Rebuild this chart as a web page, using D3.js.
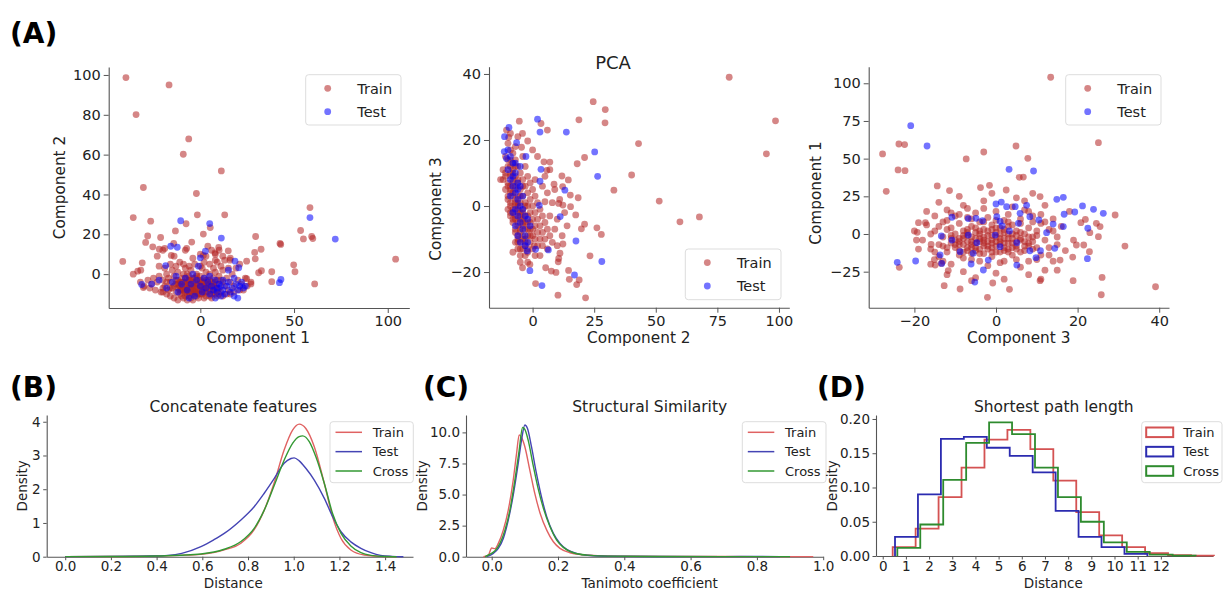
<!DOCTYPE html>
<html><head><meta charset="utf-8">
<script src="https://cdn.jsdelivr.net/npm/d3@7"></script>
<style>body{margin:0;background:#fff} svg text{font-family:"DejaVu Sans",sans-serif}</style>
</head><body><svg id="c" width="1225" height="590"></svg>
<script>
// ---------------- DATA ----------------
const seriesNames = ["Train", "Test", "Cross"];

// Panel A1: Component 1 (x) vs Component 2 (y)
const a1Train = [
[-39.7,98.7],[-16.7,95],[-34.3,80.1],[-6.2,67.9],[-9.1,60.2],[11.2,51.8],[-30.4,43.5],[-2.1,40.5],[58.5,33.4],[-35.8,28.4],[-26.5,26.6],[-1.6,29.8],[13,29.8],[-7.6,25.3],[5.3,23.4],[-13.3,21.7],[53.5,21.9],[1.6,20.1],[-28.1,19.2],[-21.2,18.4],[29.5,18.9],[59.4,18.9],[55,17.7],[60,17.9],[-29.2,15.9],[-4.6,16.1],[-14.2,15.4],[42.5,15.4],[42.9,14.9],[-25.4,13.7],[-21.9,12.5],[-19,12.9],[-7.3,12.9],[9.8,13.4],[14.9,11.7],[32.4,12.5],[29,10.9],[-15.5,9.4],[1.6,9.4],[7.8,10.7],[-41.4,6.4],[-31,5.7],[15.8,7],[24.7,6.5],[29.3,7.7],[104.2,7.5],[49.8,4.7],[-35.8,0],[-33.4,1.5],[-31.8,2],[32.6,1.7],[31.1,0.7],[38.1,1.2],[50.5,1.2],[38.1,-3.8],[61,-4.9],[27,-4.9],[-30.4,-6.7],[24.7,-2.3],
[-28,-3],[-25,-2],[-23,-4],[-22,-1],[-20,-3],[-19,-6],[-18,0],[-17,-2],[-16,-4],[-15,-7],[-15,2],[-14,-1],[-13,-5],[-13,-9],[-12,-3],[-12,1],[-11,-6],[-11,-10],[-10,-2],[-10,-4],[-9,-8],[-9,0],[-8,-5],[-8,-11],[-8,3],[-7,-3],[-7,-7],[-6,-1],[-6,-9],[-6,-5],[-5,-12],[-5,-3],[-5,2],[-4,-6],[-4,-8],[-3,-2],[-3,-10],[-3,-4],[-2,0],[-2,-7],[-2,-11],[-1,-5],[-1,-3],[0,-8],[0,-1],[0,-6],[1,-4],[1,-10],[1,3],[2,-2],[2,-7],[3,-5],[3,-9],[3,1],[4,-3],[4,-6],[5,-11],[5,0],[6,-4],[6,-8],[7,-2],[7,-6],[8,-10],[8,1],[9,-5],[9,-3],[10,-7],[10,-1],[11,-9],[12,-4],[12,2],[13,-6],[14,-2],[15,-8],[16,-4],[17,0],[18,-6],[20,-3],[22,-5],[24,-2],
[-32,-4],[-30,-6],[-27,-7],[-26,-5],[-24,-8],[-21,-9],[-20,-7],[-18,-10],[-16,-11],[-14,-12],[-17,-8],[-12,-13],[-9,-12],[-7,-13],[-4,-13],[-1,-12],[2,-12],[6,-12],[9,-11],[12,-11],[14,-10],[16,-10],[18,-9],[21,-8],[23,-8],[25,-6],[27,-4],
[-22,4],[-19,3],[-16,5],[-13,4],[-11,6],[-9,5],[-6,4],[-3,5],[0,4],[2,6],[5,5],[7,3],[9,6],[11,4],[13,7],[15,3],[19,3],[21,5],[-23,9],[-14,9],[-4,8],[3,9],[8,10],[12,9],[16,8],[-20,12],[-8,12],[6,12],[10,12],[4,14],[8,7],[0,10],
[-9,-6],[-8,-8],[-7,-4],[-6,-7],[-5,-9],[-4,-4],[-3,-7],[-2,-5],[-1,-8],[0,-4],[1,-6],[2,-9],[3,-7],[4,-9],[5,-5],[-10,-8],[-11,-4],[-12,-7],[6,-6],[7,-9],[8,-4],[-6,-3],[-3,-9],[0,-10],[3,-3],[-8,-2],[-4,-10],[2,-4],[-7,-10],[5,-8],
[-14,-6],[-13,-3],[-11,-8],[-10,-11],[-9,-4],[-8,-9],[-7,-6],[-6,-11],[-5,-7],[-4,-2],[-3,-6],[-2,-9],[-1,-10],[0,-3],[1,-8],[2,-6],[3,-11],[4,-7],[5,-3],[6,-10],[7,-5],[8,-7],[9,-8],[10,-10],[11,-3],[-16,-7],[-18,-4],[-20,-9],[-7,0],[-2,-1],[-12,-5],[-10,-7]
];
const a1Test = [
[-10.5,26.8],[5,25.4],[11.2,18.1],[58.5,28.4],[72,17.6],[-15.8,14],[-12.3,13.5],[2.7,11.5],[0,8.2],[18.5,6.5],[20.5,3.2],[43,-2.7],[42.2,-4.3],[-31.3,-5.2],[-18.5,4.3],
[-26,-5],[-22,-3],[-18,-7],[-15,-4],[-12,-9],[-10,-5],[-8,-2],[-7,-8],[-5,-5],[-3,-11],[-2,-3],[0,-6],[1,-9],[2,-2],[3,-7],[4,-4],[5,-10],[6,-6],[7,-8],[8,-3],[9,-7],[9,-9],[10,-5],[11,-6],[12,-8],[12,-3],[13,-10],[14,-6],[15,-4],[16,-9],[17,-7],[18,-11],[18,-2],[19,-5],[20,-8],[21,-6],[22,-4],[23,-7],[24,-6],[-4,0],[5,-1],[-13,-1],[15,2],[-1,4],[8,-12],[-6,-12],[11,-11],[20,-12]
];

// Panel A2: Component 2 (x) vs Component 3 (y)
const a2Train = [
[79.8,39],[98.6,25.8],[94.9,15.8],[24.6,31.6],[29.5,29.2],[29.4,25.2],[18.8,26.1],[43,18.9],[40.2,9.4],[33,4.8],[51.4,1.5],[59.8,-4.8],[67.7,-3.3],[26.1,-6.6],[27.9,-8.6],[21.1,-5.5],[19.8,-6.9],[21.1,14.7],[18.1,12.8],[18.5,2.5],[17.5,-2.7],[15.4,-0.2],[14.5,7.9],[11.9,9.1],[15.3,3.3],[12.2,5.9],[12.3,0.3],[10.6,0.8],[23.3,-15.1],[14.6,-19.5],[14.9,-22.2],[18.9,-22.4],[17.9,-23.8],[21.5,-27.8],[10.3,-27],[12.3,-11.5],[11.1,-14.3],[10.6,-15.9],[10.4,-16.9],[7.6,-19.7],[9.5,-20.1],[5.3,-18.7],[1.2,-23.5],[-4.1,-18.7],[-1.1,-17.7],[0.7,-12.1],[6,23],[3.4,25],[-5.4,25.7],[-4.1,22],[-2,19.7],[-4.5,17.8],[4.6,13.4],[7,13.3],[5.8,10.8],[-10.6,23],[-9.7,20.8],[8.7,6.6],[5,1.3],
[-10,19],[-9,17],[-8,16],[-7,18],[-11,15],[-9,14],[-7,14],[-6,12],[-10,12],[-8,11],[-11,10],[-9,9],[-7,9],[-5,10],[-12,8],[-10,7],[-8,7],[-6,7],[-4,8],[-11,5],[-9,5],[-7,5],[-5,5],[-3,6],[-1,7],[-10,3],[-8,3],[-6,3],[-4,3],[-2,4],[0,5],[-9,1],[-7,1],[-5,1],[-3,1],[-1,2],[1,3],[-10,-1],[-8,-1],[-6,-1],[-4,-1],[-2,0],[0,0],[2,1],[-9,-3],[-7,-3],[-5,-3],[-3,-3],[-1,-2],[1,-2],[3,-1],[-8,-5],[-6,-5],[-4,-5],[-2,-5],[0,-4],[2,-4],[4,-3],[-7,-7],[-5,-7],[-3,-7],[-1,-7],[1,-6],[3,-6],[5,-5],[-6,-9],[-4,-9],[-2,-9],[0,-9],[2,-8],[4,-8],[6,-7],[-7,-11],[-5,-11],[-3,-11],[-1,-11],[1,-10],[3,-10],[5,-10],[7,-9],[-6,-13],[-4,-13],[-2,-13],[0,-13],[2,-12],[4,-12],[-5,-15],[-3,-15],[3,-15],[6,-13],[8,-11],[9,-7],[7,-3],[8,1],[10,-4],[6,4],[9,5],[-12,11],[-13,8],[-9,22],[-6,21],[-4,15],[-3,12],[-2,9],[1,8],[4,6],[-8,-14],[-5,-17],[-2,-17],[1,-15],[10,-12],[12,-9],[14,-6],[13,-2],[11,2],[5,9],[7,11],[2,15],[0,17],
[-8,13],[-9,10],[-7,12],[-9,6],[-6,8],[-8,4],[-7,2],[-9,0],[-6,0],[-8,-2],[-5,-2],[-7,-4],[-4,-4],[-6,-6],[-3,-5],[-5,-8],[-2,-7],[-4,-10],[-1,-9],[-6,-10],[-3,-12],
[-10,14],[-9,12],[-11,9],[-10,6],[-8,8],[-9,4],[-10,2],[-7,0],[-9,-2],[-6,-2],[-8,-4],[-5,-4],[-7,-8],[-4,-6],[-6,-11],[-3,-10],[-5,-13],[-2,-14],[-8,10],[-7,6],[-6,1],[-4,-2],[-2,-3],[-1,-5],[0,-7],[-3,0],[-5,3],[-4,6]
];
const a2Test = [
[2,26.3],[3,22.4],[13.7,22.4],[-9.6,23.8],[-11.4,21],[25.2,16.4],[26.4,9],[-2.7,15],[3.4,11.1],[3,7.5],[13.1,4.8],[2.7,0.2],[11.2,-3.2],[17.6,-10.6],[28.1,-16.8],[17,-20.9],[3.8,-24.1],[-1.1,-19.6],[-2.2,-13.6],[1.2,-13.1],[6.4,-13.3],[-11.5,16.5],[-10.6,14.4],[-6.5,19.2],
[-10,17],[-9,15],[-8,13],[-10,11],[-7,10],[-9,8],[-6,7],[-8,6],[-5,6],[-7,4],[-9,3],[-6,2],[-5,0],[-7,-1],[-4,-1],[-6,-3],[-3,-3],[-5,-5],[-2,-4],[-7,-6],[-4,-7],[-1,-6],[-6,-9],[-3,-9],[-5,-11],[-2,-11],[-8,-2],[-6,5],[-4,3],[-8,9],[-5,12],[-3,-12],[-7,13]
];

// Panel A3: Component 3 (x) vs Component 1 (y)
const a3Train = [
[13.4,104],[-27.8,53.1],[-23.8,59.7],[-22.4,59.3],[-24,42.5],[-22.3,42],[-26.9,28.3],[25.1,60.6],[-7.3,49.8],[-3,54.4],[4.9,58.4],[7.8,50.2],[5.7,37.6],[6.7,37.8],[-14.4,31.9],[-11.4,28.8],[-3.8,30.8],[-1.6,32.3],[2.5,29.2],[9,27],[10.8,24.8],[-23.7,-22.1],[-12.7,-34.3],[-8.8,-36.5],[-2.1,-42],[3.3,-36.7],[-0.8,-32.5],[10.8,-31],[18.9,-31],[26,-28.8],[25.8,-40.3],[39.1,-35],[31.6,-8],[29.2,12.6],[25.5,4.9],[25.1,-1.8],[23,0.9],[22.9,-11.7],[21.5,-7.3],[19.7,-7.3],[20.8,7.5],[21.9,9.7],[24.6,7.1],[18.8,-15.3],[15.7,-17.3],[-19,7.5],[-19.3,1.1],[-19.5,-4],[-17.3,7.5],[-15.9,-6.9],[-15.1,-17],[-14.9,-20.6],[-13.4,-19.5],[-11.7,-24.3],
[-18,-4],[-17,6],[-16,-10],[-15,12],[-15,2],[-14,-7],[-14,-15],[-13,8],[-13,-2],[-12,16],[-12,-12],[-11,4],[-11,-6],[-11,-20],[-10,12],[-10,0],[-10,-9],[-9,-3],[-9,-14],[-9,7],[-8,19],[-8,2],[-8,-7],[-8,-25],[-7,-11],[-7,11],[-7,-1],[-6,5],[-6,-5],[-6,-17],[-5,-9],[-5,1],[-5,14],[-5,-29],[-4,-3],[-4,8],[-4,-13],[-3,22],[-3,-6],[-3,3],[-2,-10],[-2,11],[-2,-1],[-2,-21],[-1,-4],[-1,6],[-1,-15],[0,-8],[0,1],[0,15],[0,-26],[1,-12],[1,4],[1,-3],[2,9],[2,-6],[2,-18],[3,0],[3,-10],[3,13],[4,-3],[4,6],[4,-14],[5,-8],[5,2],[5,24],[6,-4],[6,10],[6,-22],[7,-11],[7,0],[7,16],[8,-6],[8,4],[8,-18],[9,-2],[9,12],[10,-9],[10,2],[11,-14],[11,7],[12,-4],[12,19],[13,-9],[13,3],[14,-18],[14,10],[15,-2],[16,5],[17,-11],[18,15],[19,-4],[-16,-20],[-12,-27],[-6,-31],[2,-30],[8,-27],[12,-24],[-19,-10],[-20,2],[-17,15],[-14,21],[-9,25],[-1,27],[7,22],[11,-30],[15,-24],
[-10,-4],[-9,-7],[-8,-1],[-7,-5],[-7,3],[-6,-9],[-6,-2],[-5,-6],[-5,4],[-4,-10],[-4,0],[-3,-8],[-3,-2],[-2,-5],[-2,2],[-1,-9],[-1,-1],[0,-5],[0,4],[1,-7],[1,0],[2,-3],[2,3],[3,-6],[3,5],[4,-9],[4,0],[5,-5],[6,1],[7,-8],[8,-2],[9,-5],[-11,-1],[-12,3],[-13,-8],[-9,-11],[-6,-13],[-3,-13],[0,-12],[3,-12],[6,-12],[9,-10],[10,-1],[-12,9],[-9,13],[-6,10],[-3,8],[0,9],[3,8],[6,7],[9,8],[-8,-16],[-4,-18],[1,-19],[5,-17],[-13,-18],[10,-17],[13,-14],[15,-7],[14,2],[12,8],[-15,-12],[-16,0],[-14,5],[-11,14],[-7,17],[-3,17],[4,18],[8,15],[11,13],
[-9,-5],[-8,-3],[-7,-9],[-6,-7],[-5,-3],[-4,-5],[-3,-4],[-2,-8],[-1,-6],[0,-2],[1,-5],[2,-9],[3,-3],[4,-6],[5,-10],[6,-3],[7,-5],[-10,-7],[-11,-3],[-8,-12],[-5,-11],[-1,-12],[2,-11],[-7,1],[-4,2],[-1,3],[2,1],[5,-1],[8,-8],[-12,-9]
];
const a3Test = [
[-20.9,71.9],[-16.9,58.4],[3.2,42.9],[9.2,41.8],[14.9,23],[16.5,24.3],[21.2,18.6],[23.9,16.4],[26.3,13.7],[19.3,14.6],[16.7,13.1],[22.5,3.8],[22.4,-16.4],[16.5,4.9],[12.4,0.9],[-24.2,-18.8],[-19.7,-17.9],[-13.7,-13.9],[-13.3,-19.5],[-5.2,-31.9],[-3.1,-23.9],[-6.1,-19.9],[5.1,-20.6],[9.8,-15.7],[10.9,-11.1],[14.4,-9.5],[14,6.6],[10.5,9.3],[7.5,19],[4.7,18.1],[2.6,18.1],[1.3,21.2],[0,19.9],[0.2,11.5],[1,8.4],[3.3,2],[5.5,7.1],[-0.2,-0.7],[1,-8.4],[-13.4,-1.3],[-10.8,11.1],[-10.8,-4],[-6.8,10.2],[-4.9,10.4],[-6.8,-0.7],[-3.3,8.8],[1.5,5.3],[5.1,-5.8],[5.9,13.7],[8.3,-11.1],[-4.7,-5.8],[8.3,11.5],[-5.6,-12.8],[-1.9,-17.3],[-8.8,-11.7]
];

// Panel B: Concatenate features, KDE [distance, density]
const bTrain = [[0,0.003],[0.2,0.005],[0.375,0.015],[0.5,0.04],[0.594,0.07],[0.696,0.2],[0.769,0.4],[0.827,0.8],[0.871,1.38],[0.915,2.2],[0.958,3.16],[0.995,3.75],[1.024,3.93],[1.053,3.8],[1.09,3.26],[1.134,2.17],[1.17,1.18],[1.207,0.54],[1.25,0.2],[1.309,0.05],[1.396,0.005],[1.45,0]];
const bTest = [[0,0.003],[0.2,0.01],[0.3,0.015],[0.375,0.02],[0.45,0.04],[0.51,0.1],[0.594,0.3],[0.65,0.5],[0.696,0.69],[0.769,1.09],[0.827,1.48],[0.871,1.88],[0.915,2.32],[0.958,2.77],[0.988,2.91],[1.002,2.93],[1.024,2.84],[1.053,2.62],[1.09,2.27],[1.134,1.73],[1.17,1.19],[1.207,0.74],[1.25,0.44],[1.294,0.25],[1.338,0.12],[1.38,0.04],[1.43,0.01],[1.48,0]];
const bCross = [[0,0.003],[0.2,0.005],[0.4,0.02],[0.5,0.045],[0.594,0.08],[0.696,0.22],[0.769,0.45],[0.827,0.84],[0.871,1.38],[0.915,2.12],[0.958,2.86],[0.995,3.36],[1.024,3.56],[1.039,3.58],[1.068,3.41],[1.097,2.96],[1.134,2.17],[1.17,1.28],[1.207,0.69],[1.25,0.32],[1.294,0.12],[1.338,0.04],[1.4,0.005],[1.45,0]];

// Panel C: Structural similarity, KDE [tanimoto, density]
const cTrain = [[-0.025,0],[-0.01,0.13],[0,0.7],[0.01,0.65],[0.02,1.07],[0.035,2.14],[0.05,3.75],[0.065,6.17],[0.075,8.3],[0.083,9.8],[0.09,9.6],[0.1,8.85],[0.115,6.97],[0.13,5.1],[0.146,3.5],[0.166,2.14],[0.186,1.2],[0.206,0.67],[0.236,0.32],[0.276,0.16],[0.326,0.08],[0.4,0.04],[0.6,0.02],[0.8,0.01],[0.97,0.005]];
const cTest = [[-0.015,0],[0.005,0.27],[0.02,0.67],[0.035,1.47],[0.05,2.95],[0.065,4.96],[0.08,7.5],[0.09,9.38],[0.1,10.6],[0.108,10.32],[0.12,8.85],[0.135,6.7],[0.15,4.83],[0.166,3.22],[0.186,1.88],[0.206,1.07],[0.226,0.59],[0.256,0.27],[0.296,0.1],[0.35,0.04],[0.5,0.02],[0.7,0.01],[0.8,0.02],[0.87,0.005]];
const cCross = [[-0.02,0],[-0.005,0.2],[0.01,0.48],[0.025,1.07],[0.04,2.14],[0.055,3.75],[0.07,6.17],[0.083,8.58],[0.093,10.4],[0.1,10.24],[0.11,9.38],[0.125,7.37],[0.14,5.5],[0.156,3.89],[0.176,2.41],[0.196,1.34],[0.216,0.75],[0.246,0.32],[0.286,0.13],[0.35,0.05],[0.5,0.02],[0.7,0.01],[0.9,0.005]];

// Panel D: Shortest path length histograms (first bin edge, bin width, densities)
const dTrainStart = 0.43, dTrainWidth = 0.99;
const dTrain = [0.013,0.040,0.086,0.129,0.170,0.184,0.156,0.110,0.064,0.030,0.013,0.004,0.0012,0.0005];
const dTestStart = 0.53, dTestWidth = 0.99;
const dTest = [0.028,0.090,0.171,0.174,0.158,0.146,0.122,0.066,0.028,0.013,0.003];
const dCrossStart = 0.63, dCrossWidth = 0.99;
const dCross = [0.012,0.046,0.111,0.165,0.195,0.178,0.129,0.086,0.050,0.020,0.006,0.002,0.0006];

// tick values
const a1XTicks = [0,50,100], a1YTicks = [0,20,40,60,80,100];
const a2XTicks = [0,25,50,75,100], a2YTicks = [-20,0,20,40];
const a3XTicks = [-20,0,20,40], a3YTicks = [-25,0,25,50,75,100];
const bXTicks = [0,0.2,0.4,0.6,0.8,1.0,1.2,1.4], bYTicks = [0,1,2,3,4];
const cXTicks = [0,0.2,0.4,0.6,0.8,1.0], cYTicks = [0,2.5,5,7.5,10];
const dXTicks = [0,1,2,3,4,5,6,7,8,9,10,11,12], dYTicks = [0,0.05,0.10,0.15,0.20];

// ---------------- DRAWING ----------------
const svg = d3.select('#c');
const FONT = '"DejaVu Sans", sans-serif';
const SPINE = '#555';

function styleAxis(ax, fs){
  ax.attr('font-family', FONT).attr('font-size', fs);
  ax.select('.domain').attr('stroke', SPINE).attr('stroke-width', 1.1);
  ax.selectAll('.tick line').attr('stroke', SPINE).attr('stroke-width', 1);
  ax.selectAll('.tick text').attr('fill', '#222');
}

function addText(x, y, txt, fs, opts={}){
  const t = svg.append('text').attr('x', x).attr('y', y).text(txt)
    .attr('font-size', fs).attr('fill', '#222').attr('font-family', FONT)
    .attr('text-anchor', opts.anchor || 'middle');
  if (opts.bold) t.attr('font-weight', 'bold').attr('fill', '#000');
  if (opts.rotate) t.attr('transform', `rotate(-90,${x},${y})`);
  return t;
}

function scatterPanel(c){
  const g = svg.append('g');
  const x = d3.scaleLinear().domain(c.xd).range(c.xr);
  const y = d3.scaleLinear().domain(c.yd).range(c.yr);
  g.append('g').selectAll('circle').data(c.train).join('circle')
    .attr('cx', d => x(d[0])).attr('cy', d => y(d[1])).attr('r', 3.4)
    .attr('fill', '#b22222').attr('fill-opacity', 0.55);
  g.append('g').selectAll('circle').data(c.test).join('circle')
    .attr('cx', d => x(d[0])).attr('cy', d => y(d[1])).attr('r', 3.4)
    .attr('fill', '#0000ff').attr('fill-opacity', 0.55);
  const fmt = d3.format('');
  const ax = g.append('g').attr('transform', `translate(0,${c.yr[0]})`)
    .call(d3.axisBottom(x).tickValues(c.xt).tickSize(5).tickPadding(3).tickSizeOuter(0).tickFormat(fmt));
  styleAxis(ax, 14.5);
  const ay = g.append('g').attr('transform', `translate(${c.xr[0]},0)`)
    .call(d3.axisLeft(y).tickValues(c.yt).tickSize(5).tickPadding(3).tickSizeOuter(0).tickFormat(fmt));
  styleAxis(ay, 14.5);
  addText(c.xl[0], c.xl[1], c.xlabel, 15.3);
  addText(c.yl[0], c.yl[1], c.ylabel, 15.3, {rotate:true});
  // legend
  const L = c.leg;
  g.append('rect').attr('x', L[0]).attr('y', L[1]).attr('width', L[2]).attr('height', L[3])
    .attr('rx', 3).attr('fill', '#fff').attr('fill-opacity', 0.85).attr('stroke', '#ddd');
  const items = [['Train', '#b22222'], ['Test', '#0000ff']];
  items.forEach((it, i) => {
    const cy = L[1] + 13.6 + i * 23.4;
    g.append('circle').attr('cx', L[0] + 22).attr('cy', cy).attr('r', 3.4)
      .attr('fill', it[1]).attr('fill-opacity', 0.55);
    g.append('text').attr('x', L[0] + 51.6).attr('y', cy + 5.3).text(it[0])
      .attr('font-size', 14.5).attr('fill', '#222').attr('font-family', FONT);
  });
}

function bottomAxes(c){
  const x = d3.scaleLinear().domain(c.xd).range(c.xr);
  const y = d3.scaleLinear().domain(c.yd).range(c.yr);
  const g = svg.append('g');
  const ax = g.append('g').attr('transform', `translate(0,${c.yr[0]})`)
    .call(d3.axisBottom(x).tickValues(c.xt).tickSize(3.5).tickPadding(1.5).tickSizeOuter(0).tickFormat(c.xf));
  styleAxis(ax, 13.5);
  const ay = g.append('g').attr('transform', `translate(${c.xr[0]},0)`)
    .call(d3.axisLeft(y).tickValues(c.yt).tickSize(3.5).tickPadding(2.5).tickSizeOuter(0).tickFormat(c.yf));
  styleAxis(ay, 13.5);
  addText(c.title[0], c.title[1], c.title[2], 15.5);
  addText(c.xl[0], c.xl[1], c.xlabel, 13.5);
  addText(c.yl[0], c.yl[1], 'Density', 13.5, {rotate:true});
  return {x, y, g};
}

function legendBox(g, L, colors, kind){
  g.append('rect').attr('x', L[0]).attr('y', L[1]).attr('width', L[2]).attr('height', L[3])
    .attr('rx', 3).attr('fill', '#fff').attr('fill-opacity', 0.85).attr('stroke', '#ddd');
  seriesNames.forEach((n, i) => {
    const cy = L[1] + 10.6 + i * 19.35;
    if (kind === 'line') {
      g.append('line').attr('x1', L[0] + 5.5).attr('x2', L[0] + 32).attr('y1', cy).attr('y2', cy)
        .attr('stroke', colors[i]).attr('stroke-width', 1.5);
    } else {
      g.append('rect').attr('x', L[0] + 4.5).attr('y', cy - 4.8).attr('width', 27).attr('height', 9.6)
        .attr('fill', 'none').attr('stroke', colors[i]).attr('stroke-width', 2);
    }
    g.append('text').attr('x', L[0] + L[4]).attr('y', cy + 4.6).text(n)
      .attr('font-size', 13).attr('fill', '#222').attr('font-family', FONT);
  });
}

// ---- Panel A ----
addText(10, 42.5, '(A)', 28, {anchor:'start', bold:true});
scatterPanel({xd:[-48.9,111.5], yd:[-17,104], xr:[108.7,409.3], yr:[308,67],
  xt:a1XTicks, yt:a1YTicks, train:a1Train, test:a1Test,
  xlabel:'Component 1', ylabel:'Component 2', xl:[258.3,343], yl:[65,187.5],
  leg:[305.7,74.7,95.3,50.3]});
scatterPanel({xd:[-17.7,104.2], yd:[-30.8,42.2], xr:[489,789.3], yr:[307.7,66.7],
  xt:a2XTicks, yt:a2YTicks, train:a2Train, test:a2Test,
  xlabel:'Component 2', ylabel:'Component 3', xl:[638.8,343], yl:[441.4,209],
  leg:[685.3,249,95.7,50.7]});
addText(613, 69.3, 'PCA', 18);
scatterPanel({xd:[-31.2,42.4], yd:[-48.9,111], xr:[868.7,1169], yr:[307.7,66.7],
  xt:a3XTicks, yt:a3YTicks, train:a3Train, test:a3Test,
  xlabel:'Component 3', ylabel:'Component 1', xl:[1018.7,343], yl:[821.4,193],
  leg:[1065.7,74.7,95.3,50.3]});

const lineCols = ['#e06262', '#4444b4', '#339933'];

// ---- Panel B ----
addText(10, 396.5, '(B)', 28, {anchor:'start', bold:true});
{
  const P = bottomAxes({xd:[-0.081,1.522], yd:[0,4.2], xr:[46.7,413], yr:[556.7,415],
    xt:bXTicks, yt:bYTicks, xf:d3.format('.1f'), yf:d3.format('d'),
    title:[233.3,412,'Concatenate features'], xlabel:'Distance', xl:[233.3,587.5], yl:[26.8,485.8]});
  const line = d3.line().x(d => P.x(d[0])).y(d => P.y(d[1])).curve(d3.curveMonotoneX);
  [bTrain, bTest, bCross].forEach((s, i) => {
    P.g.append('path').attr('d', line(s)).attr('fill', 'none').attr('stroke', lineCols[i]).attr('stroke-width', 1.4);
  });
  legendBox(P.g, [330,421.7,83.3,61,42.7], lineCols, 'line');
}
// ---- Panel C ----
addText(423, 396.5, '(C)', 28, {anchor:'start', bold:true});
{
  const P = bottomAxes({xd:[-0.0775,1.0], yd:[0,11.4], xr:[466,823.2], yr:[556.7,415],
    xt:cXTicks, yt:cYTicks, xf:d3.format('.1f'), yf:d3.format('.1f'),
    title:[649.7,412,'Structural Similarity'], xlabel:'Tanimoto coefficient', xl:[649.7,587.5], yl:[426.8,485.8]});
  const line = d3.line().x(d => P.x(d[0])).y(d => P.y(d[1])).curve(d3.curveMonotoneX);
  [cTrain, cTest, cCross].forEach((s, i) => {
    P.g.append('path').attr('d', line(s)).attr('fill', 'none').attr('stroke', lineCols[i]).attr('stroke-width', 1.4);
  });
  legendBox(P.g, [742.3,421.7,83.7,61,42.7], lineCols, 'line');
}
// ---- Panel D ----
addText(817, 396.5, '(D)', 28, {anchor:'start', bold:true});
{
  const histCols = ['#d45252', '#2b2bb0', '#2e8b2e'];
  const P = bottomAxes({xd:[-0.29,14.25], yd:[0,0.2058], xr:[876,1213], yr:[556,415],
    xt:dXTicks, yt:dYTicks, xf:d3.format('d'), yf:d3.format('.2f'),
    title:[1053.8,412,'Shortest path length'], xlabel:'Distance', xl:[1053.3,587.5], yl:[836.8,485.8]});
  const line = d3.line().x(d => P.x(d[0])).y(d => P.y(d[1]));
  [[dTrainStart,dTrainWidth,dTrain],[dTestStart,dTestWidth,dTest],[dCrossStart,dCrossWidth,dCross]].forEach((s, i) => {
    const [st, w, h] = s;
    const pts = [[st, 0]];
    h.forEach((v, k) => { pts.push([st + k*w, v]); pts.push([st + (k+1)*w, v]); });
    pts.push([st + h.length*w, 0]);
    P.g.append('path').attr('d', line(pts)).attr('fill', 'none').attr('stroke', histCols[i])
      .attr('stroke-width', 1.8).attr('stroke-linejoin', 'miter');
  });
  legendBox(P.g, [1141.7,421.7,80.3,61,41.6], histCols, 'rect');
}
</script>
</body></html>
